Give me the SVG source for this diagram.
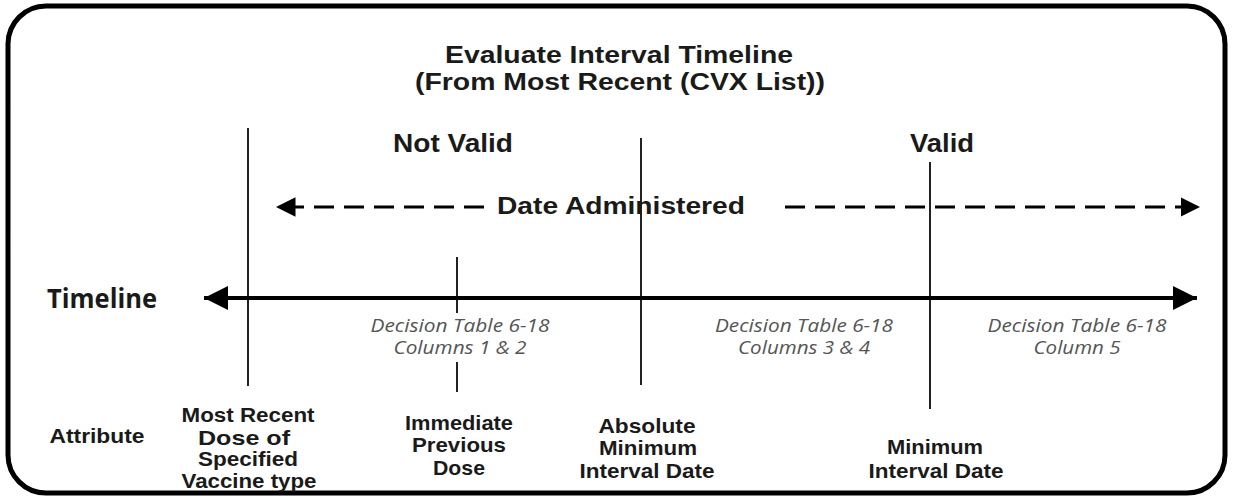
<svg xmlns="http://www.w3.org/2000/svg" width="1233" height="498" viewBox="0 0 1233 498">
<style>
.b{font-family:"Liberation Sans",Arial,sans-serif;font-weight:bold;fill:#1a1a1a;text-anchor:middle}
.t22{font-size:23px}
.t24{font-size:25px}
.t20{font-size:21px}
.it{font-family:"Open Sans","Liberation Sans",sans-serif;font-style:italic;font-size:18px;fill:#555;text-anchor:middle}
.ln{stroke:#222;stroke-width:2;fill:none}
</style>
<defs>
<marker id="ah" viewBox="0 0 10 10" refX="10" refY="5" markerWidth="6" markerHeight="6" markerUnits="strokeWidth" orient="auto-start-reverse"><path d="M0,0 L10,5 L0,10 z" fill="#000"/></marker>
<marker id="ad" viewBox="0 0 10 10" refX="10" refY="5" markerWidth="6.5" markerHeight="7" markerUnits="strokeWidth" orient="auto-start-reverse"><path d="M0,0 L10,5 L0,10 z" fill="#000"/></marker>
</defs>
<rect x="8" y="6" width="1217" height="487" rx="38" fill="#fff" stroke="#000" stroke-width="5"/>
<g id="title">
<text class="b t22" x="619" y="63" textLength="348" lengthAdjust="spacingAndGlyphs">Evaluate Interval Timeline</text>
<text class="b t22" x="620" y="90" textLength="410" lengthAdjust="spacingAndGlyphs">(From Most Recent (CVX List))</text>
</g>
<g id="not-valid"><text class="b t24" x="453" y="152" textLength="120" lengthAdjust="spacingAndGlyphs">Not Valid</text></g>
<g id="valid"><text class="b t24" x="942" y="152" textLength="64" lengthAdjust="spacingAndGlyphs">Valid</text></g>
<g id="connectors">
<line x1="248" y1="128" x2="248" y2="386" class="ln"/>
<line x1="641" y1="138" x2="641" y2="385" class="ln"/>
<line x1="930" y1="162" x2="930" y2="409" class="ln"/>
<line x1="457" y1="257" x2="457" y2="313" class="ln"/>
<line x1="457" y1="362" x2="457" y2="392" class="ln"/>
<line x1="484" y1="207" x2="276" y2="207" stroke="#000" stroke-width="3" stroke-dasharray="20 10" marker-end="url(#ad)"/>
<line x1="785" y1="207" x2="1200" y2="207" stroke="#000" stroke-width="3" stroke-dasharray="20 10" marker-end="url(#ad)"/>
<line x1="204" y1="298" x2="1197" y2="298" stroke="#000" stroke-width="4" marker-start="url(#ah)" marker-end="url(#ah)"/>
</g>
<g id="date-administered"><text class="b t22" x="621" y="214" textLength="248" lengthAdjust="spacingAndGlyphs">Date Administered</text></g>
<g id="timeline-label"><text x="102" y="308" font-family="'Open Sans','Liberation Sans',sans-serif" font-weight="bold" font-size="26" fill="#1a1a1a" text-anchor="middle" textLength="110" lengthAdjust="spacingAndGlyphs">Timeline</text></g>
<g id="dt-1-2">
<text class="it" x="460" y="332" textLength="179" lengthAdjust="spacingAndGlyphs">Decision Table 6-18</text>
<text class="it" x="460" y="354" textLength="133" lengthAdjust="spacingAndGlyphs">Columns 1 &amp; 2</text>
</g>
<g id="dt-3-4">
<text class="it" x="804" y="332" textLength="178" lengthAdjust="spacingAndGlyphs">Decision Table 6-18</text>
<text class="it" x="804" y="354" textLength="132" lengthAdjust="spacingAndGlyphs">Columns 3 &amp; 4</text>
</g>
<g id="dt-5">
<text class="it" x="1077" y="332" textLength="179" lengthAdjust="spacingAndGlyphs">Decision Table 6-18</text>
<text class="it" x="1077" y="354" textLength="87" lengthAdjust="spacingAndGlyphs">Column 5</text>
</g>
<g id="attribute"><text class="b t20" x="97" y="443" textLength="95" lengthAdjust="spacingAndGlyphs">Attribute</text></g>
<g id="most-recent-dose">
<text class="b t20" x="248" y="422" textLength="133" lengthAdjust="spacingAndGlyphs">Most Recent</text>
<text class="b t20" x="244" y="445" textLength="92" lengthAdjust="spacingAndGlyphs">Dose of</text>
<text class="b t20" x="248" y="466" textLength="100" lengthAdjust="spacingAndGlyphs">Specified</text>
<text class="b t20" x="249" y="488" textLength="135" lengthAdjust="spacingAndGlyphs">Vaccine type</text>
</g>
<g id="immediate-previous-dose">
<text class="b t20" x="459" y="430" textLength="108" lengthAdjust="spacingAndGlyphs">Immediate</text>
<text class="b t20" x="459" y="452" textLength="94" lengthAdjust="spacingAndGlyphs">Previous</text>
<text class="b t20" x="459" y="475" textLength="52" lengthAdjust="spacingAndGlyphs">Dose</text>
</g>
<g id="absolute-minimum-interval-date">
<text class="b t20" x="647" y="433" textLength="97" lengthAdjust="spacingAndGlyphs">Absolute</text>
<text class="b t20" x="648" y="455" textLength="98" lengthAdjust="spacingAndGlyphs">Minimum</text>
<text class="b t20" x="647" y="478" textLength="135" lengthAdjust="spacingAndGlyphs">Interval Date</text>
</g>
<g id="minimum-interval-date">
<text class="b t20" x="935" y="454" textLength="96" lengthAdjust="spacingAndGlyphs">Minimum</text>
<text class="b t20" x="936" y="478" textLength="135" lengthAdjust="spacingAndGlyphs">Interval Date</text>
</g>
</svg>
